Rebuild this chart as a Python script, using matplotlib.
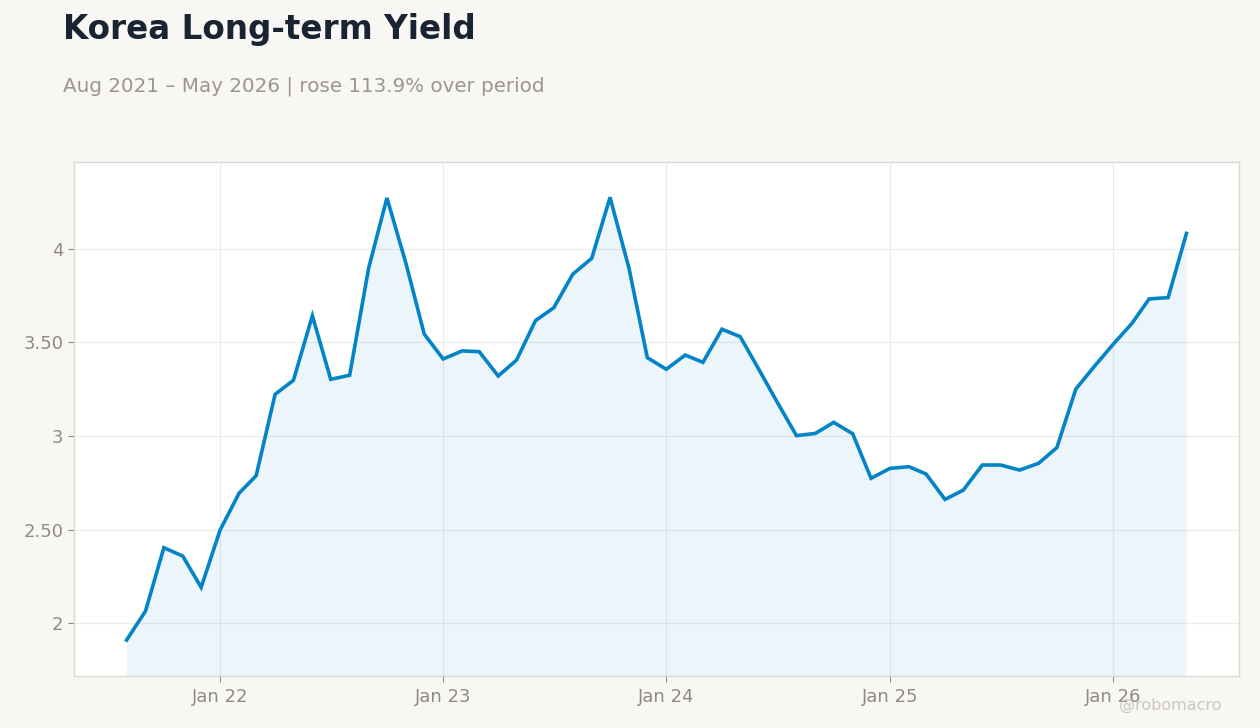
import datetime as dt
import matplotlib
matplotlib.use('Agg')
from matplotlib import pyplot as plt
import matplotlib.dates as mdates
from matplotlib.ticker import FixedLocator, FixedFormatter

# monthly readings, Aug 2021 - May 2026
start_year, start_month = 2021, 8
yields = [1.909, 2.064, 2.403, 2.358, 2.191, 2.497, 2.694, 2.788, 3.223, 3.298,
          3.643, 3.303, 3.325, 3.897, 4.273, 3.924, 3.545, 3.412, 3.455, 3.451,
          3.321, 3.406, 3.617, 3.686, 3.865, 3.950, 4.276, 3.897, 3.419, 3.357,
          3.433, 3.394, 3.571, 3.531, 3.353, 3.178, 3.002, 3.014, 3.073, 3.012,
          2.774, 2.827, 2.836, 2.797, 2.661, 2.711, 2.845, 2.845, 2.818, 2.854,
          2.938, 3.251, 3.371, 3.490, 3.603, 3.733, 3.740, 4.083]

ytick_vals = [2, 2.5, 3, 3.5, 4]
ytick_text = ['2', '2.50', '3', '3.50', '4']
xtick_years = [2022, 2023, 2024, 2025, 2026]
xtick_text = ['Jan 22', 'Jan 23', 'Jan 24', 'Jan 25', 'Jan 26']

dates = []
for i in range(len(yields)):
    m = start_month - 1 + i
    dates.append(dt.date(start_year + m // 12, m % 12 + 1, 1))

bg = '#f8f7f4'
line_col = '#0284c7'
tick_col = '#8f8a85'

fig = plt.figure(figsize=(12.6, 7.28), dpi=100, facecolor=bg)
ax = fig.add_axes([74 / 1260, 1 - 676 / 728, (1239 - 74) / 1260, (676 - 162) / 728])
ax.set_facecolor('white')

ymin, ymax = 1.717, 4.465
ax.fill_between(dates, yields, ymin, color=line_col, alpha=0.08, linewidth=0)
ax.plot(dates, yields, color=line_col, linewidth=2.6, solid_joinstyle='miter')

ax.set_ylim(ymin, ymax)
span = dates[-1] - dates[0]
ax.set_xlim(dates[0] - span * 0.05, dates[-1] + span * 0.05)

ax.yaxis.set_major_locator(FixedLocator(ytick_vals))
ax.yaxis.set_major_formatter(FixedFormatter(ytick_text))
ax.set_xticks([mdates.date2num(dt.date(y, 1, 1)) for y in xtick_years])
ax.set_xticklabels(xtick_text)

ax.grid(True, color='#ececec', linewidth=0.8)
ax.set_axisbelow(True)
for s in ax.spines.values():
    s.set_color('#ddd8d0')
    s.set_linewidth(1)
ax.tick_params(colors=tick_col, labelsize=13, length=4, width=0.8)
ax.tick_params(axis='x', pad=5)

fig.text(63 / 1260, 1 - 30 / 728, 'Korea Long-term Yield', fontsize=23.5,
         fontweight='bold', color='#1a2332', va='center', ha='left')
fig.text(63 / 1260, 1 - 86 / 728, 'Aug 2021 \u2013 May 2026 | rose 113.9% over period',
         fontsize=14.3, color='#9a9590', va='center', ha='left')
fig.text(1222 / 1260, 1 - 705 / 728, '@robomacro', fontsize=11.5,
         color='#cbc7c2', va='center', ha='right')

fig.savefig('out.png', dpi=100, facecolor=bg)
